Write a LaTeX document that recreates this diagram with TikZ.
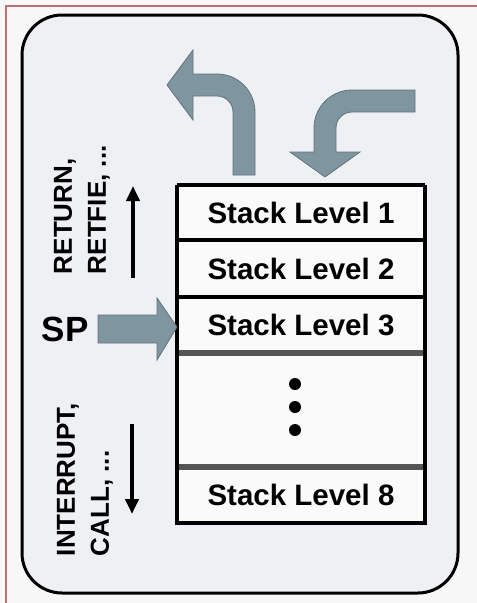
\documentclass[tikz,border=0pt]{standalone}
\usepackage{fontspec}
\setmainfont{Liberation Sans}
\usetikzlibrary{arrows.meta}
\definecolor{arrowfill}{RGB}{127,149,159}
\definecolor{arrowedge}{RGB}{95,115,125}
\definecolor{framered}{RGB}{190,112,112}
\definecolor{panelbg}{RGB}{238,240,243}
\definecolor{pagebg}{RGB}{247,247,247}
\definecolor{rowbg}{RGB}{250,250,250}
\definecolor{sepgray}{RGB}{85,85,85}
\begin{document}
\begin{tikzpicture}[x=1pt,y=-1pt,
  lvl/.style={fill=rowbg, minimum width=248pt, inner sep=0pt, outer sep=0pt,
    font=\fontsize{29.5}{31}\selectfont\bfseries},
  bigarrow/.style={fill=arrowfill, draw=arrowedge, line width=0.8pt, line join=miter},
  blkarrow/.style={line width=4pt, -{Triangle[width=13pt,length=15pt]}},
  sidelbl/.style={rotate=90, align=left, inner sep=0pt, outer sep=0pt,
    font=\fontsize{26}{34}\selectfont\bfseries},
  blacksep/.style={line width=4.5pt},
  graysep/.style={line width=6pt, draw=sepgray}
]
\useasboundingbox (0,0) rectangle (477,603);
\fill[pagebg] (0,0) rectangle (477,603);
% outer frame
\draw[framered, line width=2pt] (6,603) -- (6,6) -- (477,6);
% rounded panel
\draw[fill=panelbg, line width=3pt, rounded corners=40pt] (22,15) rectangle (458,593);

% rows
\node[lvl, minimum height=55pt] (l1) at (301,212.5) {Stack Level 1};
\node[lvl, minimum height=57pt] (l2) at (301,268.5) {Stack Level 2};
\node[lvl, minimum height=56pt] (l3) at (301,325) {Stack Level 3};
\node[lvl, minimum height=114pt] (ld) at (301,410) {};
\node[lvl, minimum height=56pt] (l8) at (301,495) {Stack Level 8};
\fill (295,384) circle[radius=6];
\fill (295,407) circle[radius=6];
\fill (295,430) circle[radius=6];

% separators
\draw[blacksep] (l1.south west) -- (l1.south east);
\draw[blacksep] (l2.south west) -- (l2.south east);
\draw[graysep] (l3.south west) -- (l3.south east);
\draw[graysep] (ld.south west) -- (ld.south east);
% box outline
\draw[line width=3.5pt] (l1.north west) -- (l1.north east);
\draw[line width=3.5pt] (l1.north west) -- (l8.south west) -- (l8.south east) -- (l1.north east);

% curved block arrows
\draw[bigarrow] (233,175) -- (233,112) arc[start angle=0, end angle=-90, radius=16]
  -- (193,96) -- (193,120) -- (167,85) -- (193,50) -- (193,74) -- (217,74)
  arc[start angle=-90, end angle=0, radius=38] -- (255,175) -- cycle;
\draw[bigarrow] (415,90) -- (352,90) arc[start angle=-90, end angle=-180, radius=38]
  -- (314,152) -- (290,152) -- (325,177) -- (360,152) -- (336,152) -- (336,128)
  arc[start angle=180, end angle=270, radius=16] -- (415,112) -- cycle;

% SP
\node[font=\fontsize{35}{36}\selectfont\bfseries, inner sep=0pt] (sp) at (65,329) {SP};
\draw[bigarrow] (98,315) -- (157,315) -- (157,298) -- (177,327) -- (157,360) -- (157,343) -- (98,343) -- cycle;

% side labels and arrows
\node[sidelbl, anchor=north west] (ret) at (54,274) {RETURN,\\RETFIE, ...};
\node[sidelbl, anchor=north west] (intr) at (57,556) {INTERRUPT,\\CALL, ...};
\coordinate (upS) at (133,278);
\coordinate (upE) at (133,186);
\draw[blkarrow] (upS) -- (upE);
\coordinate (dnS) at (132,424);
\coordinate (dnE) at (132,514);
\draw[blkarrow] (dnS) -- (dnE);
\end{tikzpicture}
\end{document}
